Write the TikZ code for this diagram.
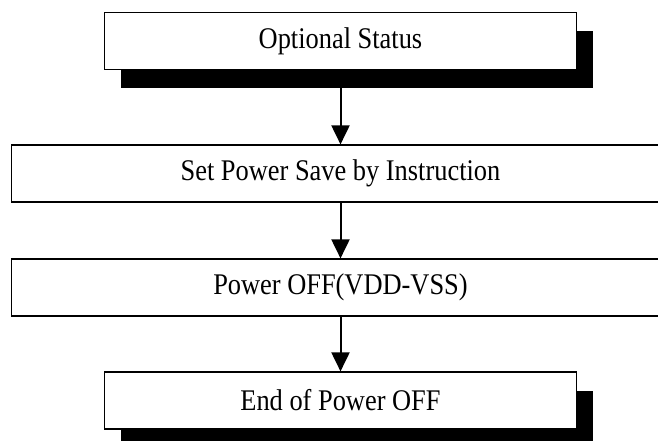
\documentclass[tikz,border=0pt]{standalone}
\usepackage{fontspec}
\setmainfont{Liberation Serif}[FakeStretch=0.88]
\usepackage{tikz}
\usetikzlibrary{arrows.meta, positioning, shadows}
\tikzset{
  stepbox/.style={rectangle, draw=black, fill=white, line width=1.2pt,
    minimum height=57pt, inner sep=0pt,
    font=\fontsize{30}{36}\selectfont},
  shadowbox/.style={stepbox, minimum width=472pt,
    drop shadow={shadow xshift=16pt, shadow yshift=-19pt, fill=black, opacity=1}},
  widebox/.style={stepbox, minimum width=658pt},
  arrow/.style={-{Triangle[length=19pt, width=18pt]}, line width=2pt, color=black}
}
\begin{document}
\begin{tikzpicture}[x=1pt, y=-1pt]
  \useasboundingbox (0,0) rectangle (658,441);
  \node[shadowbox] (opt) at (340.5, 41) {Optional Status};
  \node[widebox] (psave) at (340.5, 173.5) {Set Power Save by Instruction};
  \node[widebox] (poff) at (340.5, 287.5) {Power OFF(VDD-VSS)};
  \node[shadowbox] (endoff) at (340.5, 400.5) {End of Power OFF};

  % Paths
  \draw[arrow] (opt.south) -- (psave.north);
  \draw[arrow] (psave) -- (poff);
  \draw[arrow] (poff) -- (endoff);
\end{tikzpicture}
\end{document}
